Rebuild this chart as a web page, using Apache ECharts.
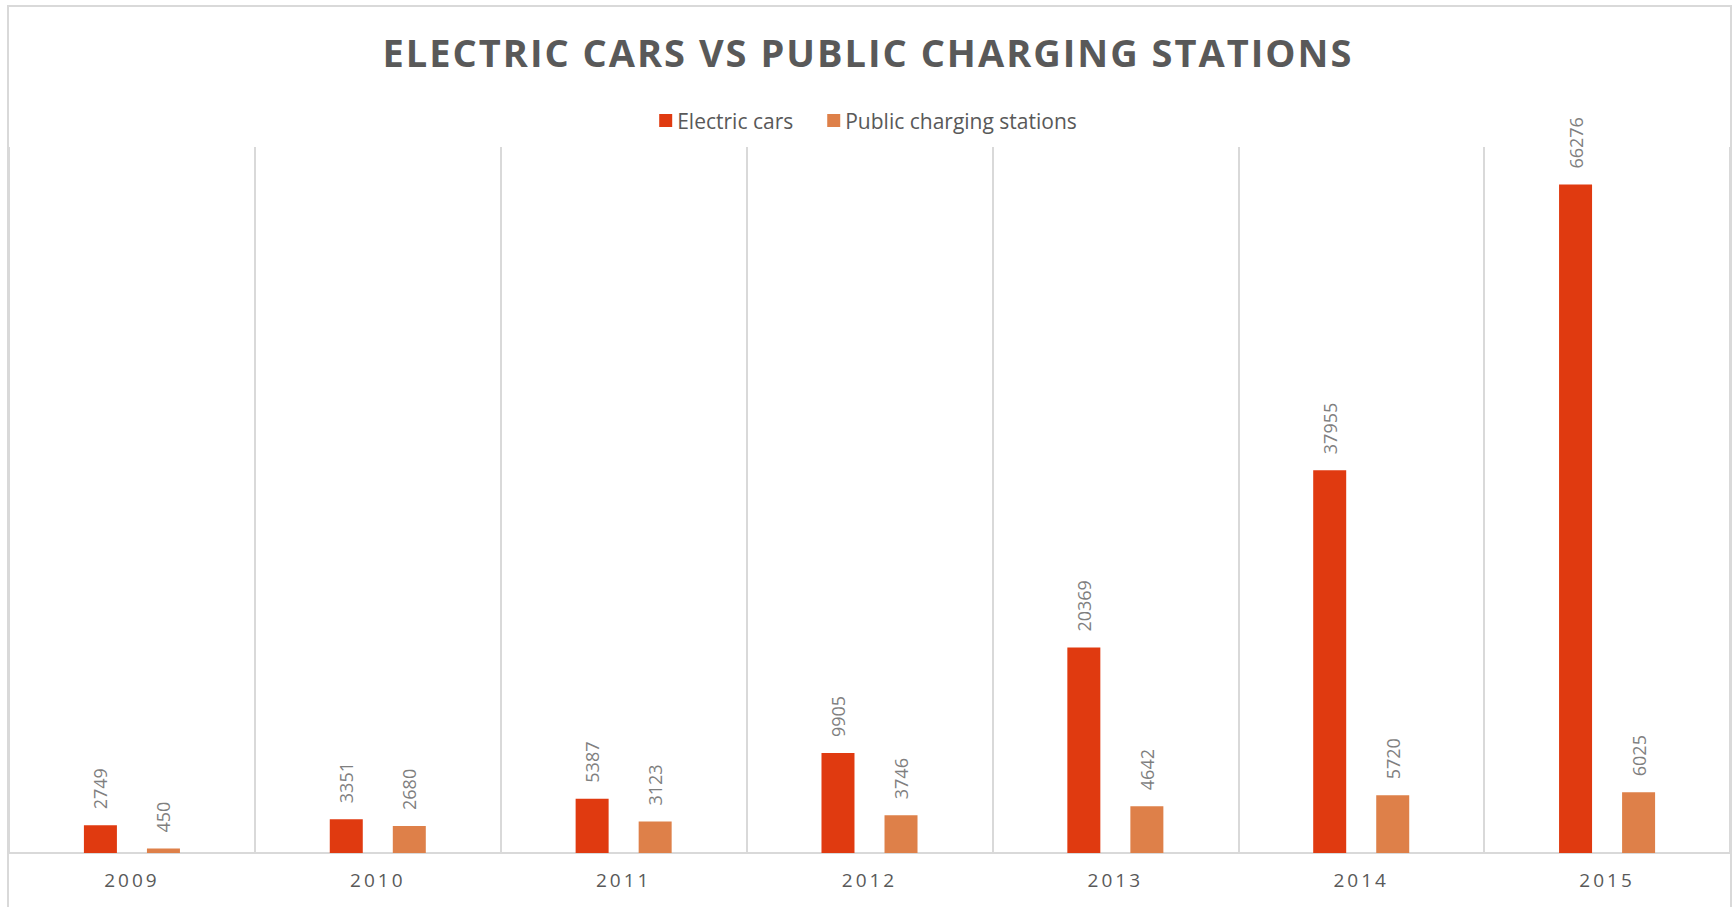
<!DOCTYPE html>
<html>
<head>
<meta charset="utf-8">
<title>Electric cars vs public charging stations</title>
<script src="https://cdn.jsdelivr.net/npm/echarts@6/dist/echarts.min.js"></script>
<style>
  html, body { margin: 0; padding: 0; background: #fff; }
  #chart { width: 1736px; height: 907px; }
  /* the original has spaced-out letters in the title and year labels */
  #chart text[style*="38px"] { letter-spacing: 2px; }
  #chart text[style*="19px"] { letter-spacing: 3px; }
</style>
</head>
<body>
<div id="chart"></div>
<script>
// data
var years = ['2009', '2010', '2011', '2012', '2013', '2014', '2015']
var electricCars = [2749, 3351, 5387, 9905, 20369, 37955, 66276]
var chargingStations = [450, 2680, 3123, 3746, 4642, 5720, 6025]
var seriesNames = ['Electric cars', 'Public charging stations']

var chart = echarts.init(document.getElementById('chart'), null, { renderer: 'svg' })

var labelStyle = {
  show: true,
  position: 'top',
  rotate: 90,
  align: 'left',
  verticalAlign: 'middle',
  distance: 16,
  color: '#7f7f7f',
  fontSize: 18,
  fontFamily: 'Open Sans'
}

chart.setOption({
  animation: false,
  textStyle: { fontFamily: 'Open Sans' },
  title: {
    text: 'ELECTRIC CARS VS PUBLIC CHARGING STATIONS',
    left: 'center',
    top: 28,
    textStyle: {
      color: '#595959',
      fontSize: 38,
      fontWeight: 'bold',
      fontFamily: 'Open Sans'
    }
  },
  legend: {
    data: seriesNames,
    top: 105,
    left: 'center',
    icon: 'rect',
    itemWidth: 13,
    itemHeight: 13,
    itemGap: 34,
    textStyle: { color: '#595959', fontSize: 21 }
  },
  // outer frame, like the chart area border
  graphic: [{
    type: 'rect',
    shape: { x: 8, y: 6, width: 1723, height: 910 },
    style: { fill: 'none', stroke: '#d9d9d9', lineWidth: 2 },
    silent: true
  }],
  grid: {
    left: 9,
    right: 6,
    top: 147,
    bottom: 54,
    containLabel: false
  },
  xAxis: {
    type: 'category',
    data: years,
    axisTick: { show: false },
    axisLine: { lineStyle: { color: '#d9d9d9', width: 2 } },
    splitLine: { show: true, lineStyle: { color: '#d9d9d9', width: 2 } },
    axisLabel: {
      color: '#595959',
      fontSize: 19,
      margin: 17
    }
  },
  yAxis: {
    type: 'value',
    min: 0,
    max: 70000,
    interval: 10000,
    show: false,
    splitLine: { show: false }
  },
  series: [
    {
      name: seriesNames[0],
      type: 'bar',
      data: electricCars,
      barWidth: 33,
      barGap: '91%',
      itemStyle: { color: '#e03a10' },
      label: labelStyle
    },
    {
      name: seriesNames[1],
      type: 'bar',
      data: chargingStations,
      barWidth: 33,
      itemStyle: { color: '#de8049' },
      label: labelStyle
    }
  ]
})
</script>
</body>
</html>
